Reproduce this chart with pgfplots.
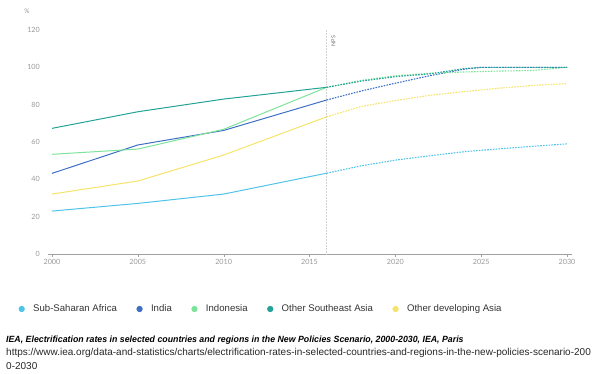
\documentclass[border=0pt]{standalone}
\usepackage{pgfplots}
\pgfplotsset{compat=1.18}
\usepackage{fontspec}
\setmainfont{Liberation Sans}
\newfontfamily\tickfont{Lato}
\definecolor{cSSA}{HTML}{4FC3E8}
\definecolor{cIND}{HTML}{3D6FC4}
\definecolor{cIDN}{HTML}{7EE39A}
\definecolor{cOSA}{HTML}{23A296}
\definecolor{cODA}{HTML}{F5E36A}
\definecolor{gridc}{HTML}{EBEBEB}
\definecolor{tickc}{HTML}{9A9A9A}
\definecolor{axc}{HTML}{A0A0A0}
\begin{document}
\begin{tikzpicture}
\path[use as bounding box] (0,0) rectangle (600pt,373pt);
\begin{axis}[
  at={(48pt,119pt)}, anchor=south west,
  scale only axis, width=524pt, height=224pt,
  xmin=1999.77, xmax=2030.29, ymin=0, ymax=120,
  axis x line=bottom, axis y line=none,
  x axis line style={axc, -},
  xtick={2000,2005,...,2030}, ytick={0,20,...,120},
  xtick pos=bottom, tick align=outside, major tick length=3pt,
  x tick style={axc},
  ymajorgrids, grid style={gridc, line width=0.6pt},
  /pgf/number format/assume math mode=true,
  /pgf/number format/1000 sep={},
  tick label style={font=\tickfont\fontsize{7.2}{8}\selectfont, text=tickc},
  x tick label style={inner sep=0pt, yshift=-2pt},
  clip=false,
  legend style={at={(axis description cs:-0.0565,-0.2455)}, anchor=west,
    draw=none, fill=none, inner sep=0pt,
    font=\fontsize{9.6}{11}\selectfont, text=black!80,
    nodes={inner sep=0pt},
    /tikz/every odd column/.append style={column sep=8.4pt},
    /tikz/every even column/.append style={column sep=19.5pt}},
  legend columns=5,
  legend image code/.code={\fill (0pt,0pt) circle (2.6pt);},
]
\pgfplotsinvokeforeach{0,20,40,60,80,100,120}{
  \node[anchor=east, inner sep=0pt, font=\tickfont\fontsize{7.2}{8}\selectfont, text=tickc] at (axis cs:1999.77,#1) [xshift=-8pt] {#1};
}
\node[anchor=center, inner sep=0pt, font=\tickfont\fontsize{6.5}{7}\selectfont, text=tickc] at (axis description cs:-0.040,1.085) {\%};
\draw[black!18, densely dotted, line width=0.5pt] (axis cs:2016,0) -- (axis cs:2016,120);
\node[rotate=90, inner sep=0pt, font=\tickfont\fontsize{5.5}{6}\selectfont, text=black!55] at (axis cs:2016.4,114) {NPS};

\addplot[cSSA, line width=1pt] coordinates {(2000,23)(2005,27.1)(2010,32.1)(2016,43.3)};
\addlegendentry{Sub-Saharan Africa}
\addplot[cIND, line width=1pt] coordinates {(2000,43.2)(2005,58.4)(2010,66.2)(2016,82.5)};
\addlegendentry{India}
\addplot[cIDN, line width=1pt] coordinates {(2000,53.4)(2005,56.2)(2010,66.8)(2016,89.3)};
\addlegendentry{Indonesia}
\addplot[cOSA, line width=1pt] coordinates {(2000,67.3)(2005,76.2)(2010,83)(2016,89.3)};
\addlegendentry{Other Southeast Asia}
\addplot[cODA, line width=1pt] coordinates {(2000,32.1)(2005,39.1)(2010,53)(2016,73.5)};
\addlegendentry{Other developing Asia}

\addplot[cSSA, line width=1.1pt, dash pattern=on 1.6pt off 1.2pt, forget plot] coordinates {(2016,43.3)(2018,47.2)(2020,50.3)(2022,52.6)(2024,54.8)(2026,56.3)(2028,57.7)(2030,59)};
\addplot[cIND, line width=1.1pt, dash pattern=on 1.6pt off 1.2pt, forget plot] coordinates {(2016,82.5)(2018,87.3)(2020,91.5)(2022,95.5)(2024,99)(2025,100)(2030,100)};
\addplot[cIDN, line width=1.1pt, dash pattern=on 1.6pt off 1.2pt, forget plot] coordinates {(2016,89.3)(2018,93)(2020,95.5)(2022,96.8)(2024,97.5)(2026,98)(2028,98.3)(2030,100)};
\addplot[cOSA, line width=1.1pt, dash pattern=on 1.6pt off 1.2pt, forget plot] coordinates {(2016,89.3)(2018,92.6)(2020,95)(2022,96.5)(2024,99.3)(2025,100)(2030,100)};
\addplot[cODA, line width=1.1pt, dash pattern=on 1.6pt off 1.2pt, forget plot] coordinates {(2016,73.5)(2018,79)(2020,82.2)(2022,85)(2024,87)(2026,88.8)(2028,90.3)(2030,91.3)};
\end{axis}
\node[anchor=base west, inner sep=0pt, font=\bfseries\itshape\fontsize{9}{10}\selectfont, xscale=0.976, transform shape] at (6pt,31pt) {IEA, Electrification rates in selected countries and regions in the New Policies Scenario, 2000-2030, IEA, Paris};
\node[anchor=base west, inner sep=0pt, font=\fontsize{10}{11}\selectfont, text=black!85] at (6pt,17.7pt) {https://www.iea.org/data-and-statistics/charts/electrification-rates-in-selected-countries-and-regions-in-the-new-policies-scenario-200};
\node[anchor=base west, inner sep=0pt, font=\fontsize{10}{11}\selectfont, text=black!85] at (6pt,3.3pt) {0-2030};
\end{tikzpicture}
\end{document}
